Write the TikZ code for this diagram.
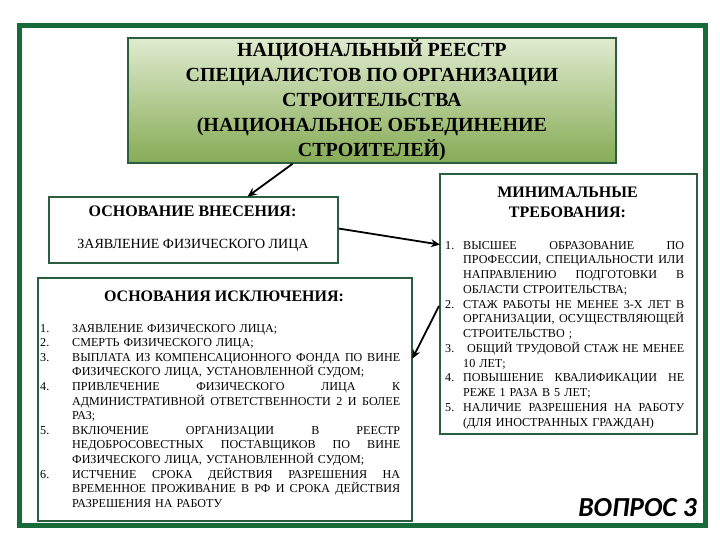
\documentclass[tikz,border=0pt]{standalone}
\usepackage{fontspec}
\setmainfont{Liberation Serif}
\newfontfamily\qfont{Carlito}
\usetikzlibrary{calc,arrows.meta}
\definecolor{framegreen}{HTML}{176B38}
\definecolor{boxgreen}{HTML}{2A5E3E}
\definecolor{gtop}{HTML}{E0EBD0}
\definecolor{gbot}{HTML}{86AB55}
\newlength\numw
\newlength\txtw
\newcommand\jline[2]{\noindent\hbox{\hbox to \numw{#1\hfil}{\spaceskip=\fontdimen2\font plus 1fil\relax\hbox to \txtw{#2}}}\par}
\newcommand\rline[2]{\noindent\hbox{\hbox to \numw{#1\hfil}\hbox to \txtw{#2\hfil}}\par}
\begin{document}
\begin{tikzpicture}[x=1pt,y=-1pt,
  boxg/.style={draw=boxgreen, line width=1.8pt, rectangle, inner sep=0pt, anchor=north west},
  conn/.style={-{Stealth[length=9pt,width=8pt]}, line width=1.8pt, black, shorten >=-1pt},
  titlef/.style={font=\bfseries\fontsize{16}{20}\selectfont, align=center, inner sep=0pt},
  listf/.style={font=\fontsize{12.1}{14.6}\selectfont, inner sep=0pt, anchor=base west}
  ]
\useasboundingbox (0,0) rectangle (720,540);
\fill[white] (0,0) rectangle (720,540);
\draw[framegreen, line width=5pt] (19.5,26) rectangle (705.5,525);

% top box
\node[boxg, top color=gtop, bottom color=gbot, minimum width=488pt, minimum height=125pt,
  align=center, font=\bfseries\fontsize{20}{25}\selectfont] (reg) at (127,37)
  {НАЦИОНАЛЬНЫЙ РЕЕСТР\\СПЕЦИАЛИСТОВ ПО ОРГАНИЗАЦИИ\\СТРОИТЕЛЬСТВА\\(НАЦИОНАЛЬНОЕ ОБЪЕДИНЕНИЕ\\СТРОИТЕЛЕЙ)};

% vnesenie box
\node[boxg, minimum width=289pt, minimum height=66pt] (vn) at (48,196) {};
\node[titlef] (vnt) at (192.5,211) {ОСНОВАНИЕ ВНЕСЕНИЯ:};
\node[font=\fontsize{14}{16}\selectfont, inner sep=0pt] (vnb) at (193,245) {ЗАЯВЛЕНИЕ ФИЗИЧЕСКОГО ЛИЦА};

% exclusion box
\node[boxg, minimum width=374pt, minimum height=243pt] (ex) at (37,277) {};
\node[titlef] (ext) at (224,296) {ОСНОВАНИЯ ИСКЛЮЧЕНИЯ:};
\node[listf, text width=360pt] (exl) at (40,332) {%
\setlength\numw{32pt}\setlength\txtw{328pt}%
\rline{1.}{ЗАЯВЛЕНИЕ ФИЗИЧЕСКОГО ЛИЦА;}
\rline{2.}{СМЕРТЬ ФИЗИЧЕСКОГО ЛИЦА;}
\jline{3.}{ВЫПЛАТА ИЗ КОМПЕНСАЦИОННОГО ФОНДА ПО ВИНЕ}
\rline{}{ФИЗИЧЕСКОГО ЛИЦА, УСТАНОВЛЕННОЙ СУДОМ;}
\jline{4.}{ПРИВЛЕЧЕНИЕ ФИЗИЧЕСКОГО ЛИЦА К}
\jline{}{АДМИНИСТРАТИВНОЙ ОТВЕТСТВЕННОСТИ 2 И БОЛЕЕ}
\rline{}{РАЗ;}
\jline{5.}{ВКЛЮЧЕНИЕ ОРГАНИЗАЦИИ В РЕЕСТР}
\jline{}{НЕДОБРОСОВЕСТНЫХ ПОСТАВЩИКОВ ПО ВИНЕ}
\rline{}{ФИЗИЧЕСКОГО ЛИЦА, УСТАНОВЛЕННОЙ СУДОМ;}
\jline{6.}{ИСТЧЕНИЕ СРОКА ДЕЙСТВИЯ РАЗРЕШЕНИЯ НА}
\jline{}{ВРЕМЕННОЕ ПРОЖИВАНИЕ В РФ И СРОКА ДЕЙСТВИЯ}
\rline{}{РАЗРЕШЕНИЯ НА РАБОТУ}};

% minimum requirements box
\node[boxg, minimum width=257pt, minimum height=260pt] (mr) at (439,173) {};
\node[titlef] (mrt) at (567.5,202) {МИНИМАЛЬНЫЕ\\ТРЕБОВАНИЯ:};
\node[listf, font=\fontsize{12.1}{14.75}\selectfont, text width=239pt] (mrl) at (445,249) {%
\setlength\numw{18pt}\setlength\txtw{221pt}%
\jline{1.}{ВЫСШЕЕ ОБРАЗОВАНИЕ ПО}
\jline{}{ПРОФЕССИИ, СПЕЦИАЛЬНОСТИ ИЛИ}
\jline{}{НАПРАВЛЕНИЮ ПОДГОТОВКИ В}
\rline{}{ОБЛАСТИ СТРОИТЕЛЬСТВА;}
\jline{2.}{СТАЖ РАБОТЫ НЕ МЕНЕЕ 3-Х ЛЕТ В}
\jline{}{ОРГАНИЗАЦИИ, ОСУЩЕСТВЛЯЮЩЕЙ}
\rline{}{СТРОИТЕЛЬСТВО ;}
\jline{3.}{\kern4pt ОБЩИЙ ТРУДОВОЙ СТАЖ НЕ МЕНЕЕ}
\rline{}{10 ЛЕТ;}
\jline{4.}{ПОВЫШЕНИЕ КВАЛИФИКАЦИИ НЕ}
\rline{}{РЕЖЕ 1 РАЗА В 5 ЛЕТ;}
\jline{5.}{НАЛИЧИЕ РАЗРЕШЕНИЯ НА РАБОТУ}
\rline{}{(ДЛЯ ИНОСТРАННЫХ ГРАЖДАН)}};

% question label
\node[font=\qfont\bfseries\itshape\fontsize{27.5}{30}\selectfont, inner sep=0pt, anchor=east] (q) at (697,508) {ВОПРОС 3};

% connectors
\draw[conn] ($(reg.south west)!0.338!(reg.south east)$) -- ($(vn.north west)!0.689!(vn.north east)$);
\draw[conn] ($(vn.north east)!0.48!(vn.south east)$) -- ($(mr.north west)!0.273!(mr.south west)$);
\draw[conn] ($(mr.north west)!0.508!(mr.south west)$) -- ($(ex.north east)!0.33!(ex.south east)$);
\end{tikzpicture}
\end{document}
